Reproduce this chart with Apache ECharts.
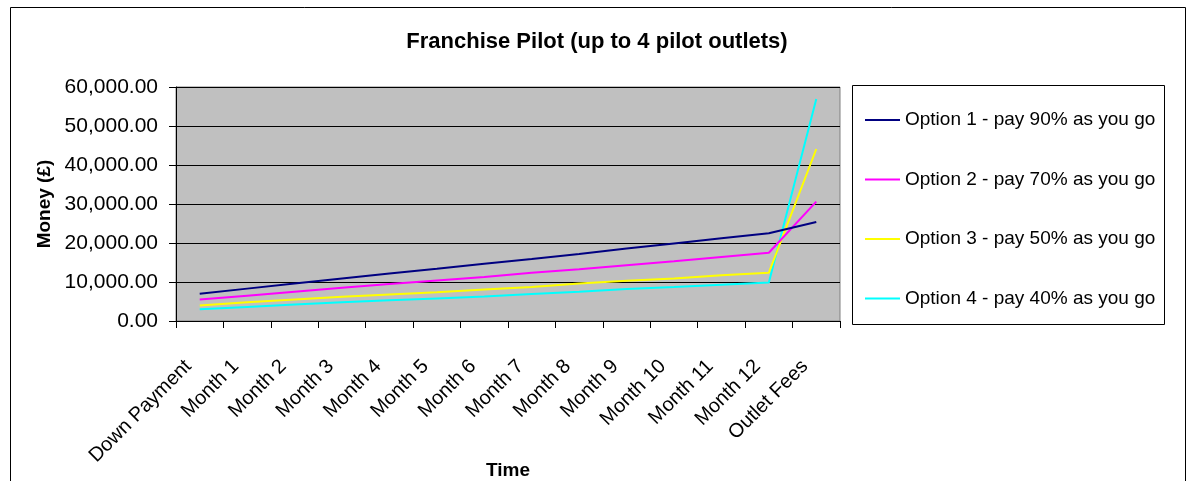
<!DOCTYPE html>
<html>
<head>
<meta charset="utf-8">
<script src="https://cdn.jsdelivr.net/npm/echarts@6/dist/echarts.min.js"></script>
<style>
html,body{margin:0;padding:0;background:#fff;}
#chart{width:1189px;height:481px;}
</style>
</head>
<body>
<div id="chart"></div>
<script>
const categories = ['Down Payment','Month 1','Month 2','Month 3','Month 4','Month 5','Month 6','Month 7','Month 8','Month 9','Month 10','Month 11','Month 12','Outlet Fees'];
const seriesNames = ['Option 1 - pay 90% as you go','Option 2 - pay 70% as you go','Option 3 - pay 50% as you go','Option 4 - pay 40% as you go'];
const option1 = [7000, 8300, 9600, 10900, 12200, 13400, 14700, 15900, 17200, 18600, 19900, 21200, 22500, 25400];
const option2 = [5500, 6500, 7500, 8500, 9500, 10400, 11300, 12400, 13300, 14300, 15300, 16400, 17500, 30600];
const option3 = [4000, 4800, 5500, 6200, 6800, 7400, 8100, 8700, 9600, 10300, 10900, 11700, 12400, 44100];
const option4 = [3000, 3600, 4200, 4800, 5300, 5800, 6300, 6900, 7500, 8200, 8700, 9300, 9900, 56900];
const colors = ['#000080', '#FF00FF', '#FFFF00', '#00FFFF'];
const yTicks = {min: 0, max: 60000, interval: 10000};

const FONT = '"Liberation Sans", Arial, sans-serif';
function fmt(v){
  const s = Math.round(v).toString().replace(/\B(?=(\d{3})+(?!\d))/g, ',');
  return s + '.00';
}

const chart = echarts.init(document.getElementById('chart'), null, {renderer:'canvas'});
const allData = [option1, option2, option3, option4];
chart.setOption({
  animation: false,
  backgroundColor: '#ffffff',
  textStyle: {fontFamily: FONT},
  graphic: [
    {type:'rect', z:0, shape:{x:10.5, y:7.5, width:1175, height:500}, style:{fill:'none', stroke:'#000', lineWidth:1}},
    {type:'rect', z:0, shape:{x:852.5, y:85.5, width:312, height:239}, style:{fill:'#fff', stroke:'#000', lineWidth:1}},
    {type:'text', z:5, x:597, y:42, style:{text:'Franchise Pilot (up to 4 pilot outlets)', fill:'#000', font:'bold 22px ' + FONT, align:'center', verticalAlign:'middle'}}
  ],
  legend: {
    orient: 'vertical',
    left: 860,
    top: 105,
    itemWidth: 35,
    itemHeight: 2,
    itemGap: 39.5,
    icon: 'rect',
    textStyle: {fontSize: 19, fontFamily: FONT, color: '#000', lineHeight: 20},
    data: seriesNames
  },
  grid: {
    left: 176, right: 349, top: 87, bottom: 160,
    show: true, backgroundColor: '#C0C0C0', borderColor: '#808080', borderWidth: 1,
    containLabel: false,
    outerBoundsMode: 'none'
  },
  xAxis: {
    type: 'category',
    data: categories,
    boundaryGap: true,
    name: 'Time',
    nameLocation: 'middle',
    nameGap: 140,
    nameMoveOverlap: false,
    nameTextStyle: {fontSize: 19, fontWeight: 'bold', color: '#000', fontFamily: FONT},
    axisLine: {show: true, lineStyle: {color: '#000', width: 1}},
    axisTick: {show: true, interval: 0, length: 7, lineStyle: {color: '#000'}},
    axisLabel: {interval: 0, rotate: 45, margin: 31, padding: [0, 16, 0, 0], fontSize: 20, color: '#000', fontFamily: FONT},
    splitLine: {show: false}
  },
  yAxis: {
    type: 'value',
    min: yTicks.min, max: yTicks.max, interval: yTicks.interval,
    name: 'Money (£)',
    nameLocation: 'middle',
    nameGap: 122,
    nameRotate: 90,
    nameMoveOverlap: false,
    nameTextStyle: {fontSize: 19, fontWeight: 'bold', color: '#000', fontFamily: FONT},
    axisLine: {show: true, lineStyle: {color: '#000', width: 1}},
    axisTick: {show: true, length: 7, lineStyle: {color: '#000'}},
    axisLabel: {margin: 18, fontSize: 21, color: '#000', fontFamily: FONT, formatter: fmt},
    splitLine: {show: true, lineStyle: {color: '#000', width: 1}}
  },
  series: seriesNames.map((n, i) => ({
    name: n,
    type: 'line',
    data: allData[i],
    symbol: 'none',
    color: colors[i],
    lineStyle: {width: 2, color: colors[i]},
    z: 10 - i
  }))
});
</script>
</body>
</html>
